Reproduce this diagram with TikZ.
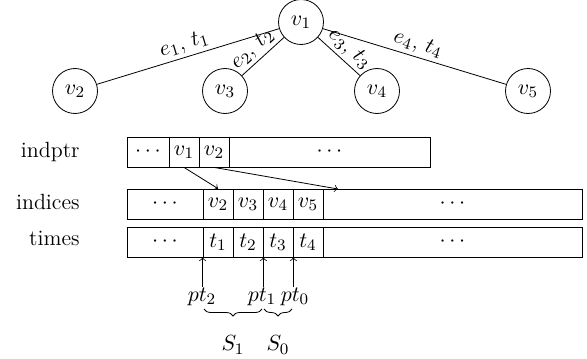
\documentclass[tikz,border=0pt]{standalone}
\usetikzlibrary{decorations.pathreplacing}
\begin{document}
\begin{tikzpicture}[x=0.5pt,y=-0.5pt,
  every node/.style={font=\fontsize{11}{13}\selectfont,inner sep=0.5pt},
  vert/.style={circle,draw,thin,minimum size=22.5pt,inner sep=0pt},
  elab/.style={midway,sloped,above=1.5pt,inner sep=0pt},
  cell/.style={draw,thin,minimum height=15pt,inner sep=0pt,anchor=center},
  rowlab/.style={anchor=base east,inner sep=0pt},
  ptr/.style={->,thin},
  brc/.style={decorate,decoration={brace,mirror,amplitude=3.5pt},thin}]
\useasboundingbox (0,0) rectangle (587,358);
% tree
\node[vert] (v1) at (301,22) {$v_1$};
\node[vert] (v2) at (75,91) {$v_2$};
\node[vert] (v3) at (225,91) {$v_3$};
\node[vert] (v4) at (377,91) {$v_4$};
\node[vert] (v5) at (528,91) {$v_5$};
\draw (v1) -- node[elab] {$e_1$, $t_1$} (v2);
\draw (v1) -- node[elab,pos=0.55] {$e_2$, $t_2$} (v3);
\draw (v1) -- node[elab,pos=0.55] {$e_3$, $t_3$} (v4);
\draw (v1) -- node[elab] {$e_4$, $t_4$} (v5);
% row labels
\node[rowlab] (lp) at (80,157) {indptr};
\node[rowlab] (li) at (80,209) {indices};
\node[rowlab] (lt) at (80,245) {times};
% indptr
\node[cell,minimum width=21pt] (pa) at (148,152) {$\cdots$};
\node[cell,minimum width=15pt] (p1) at (184,152) {$v_1$};
\node[cell,minimum width=15pt] (p2) at (214,152) {$v_2$};
\node[cell,minimum width=100.5pt] (pb) at (329.5,152) {$\cdots$};
% indices
\node[cell,minimum width=38pt] (ia) at (165,204) {$\cdots$};
\node[cell,minimum width=15pt] (i2) at (218,204) {$v_2$};
\node[cell,minimum width=15pt] (i3) at (248,204) {$v_3$};
\node[cell,minimum width=15pt] (i4) at (278,204) {$v_4$};
\node[cell,minimum width=15pt] (i5) at (308,204) {$v_5$};
\node[cell,minimum width=129.5pt] (ib) at (452.5,204) {$\cdots$};
% times
\node[cell,minimum width=38pt] (ta) at (165,242) {$\cdots$};
\node[cell,minimum width=15pt] (t1) at (218,242) {$t_1$};
\node[cell,minimum width=15pt] (t2) at (248,242) {$t_2$};
\node[cell,minimum width=15pt] (t3) at (278,242) {$t_3$};
\node[cell,minimum width=15pt] (t4) at (308,242) {$t_4$};
\node[cell,minimum width=129.5pt] (tb) at (452.5,242) {$\cdots$};
% pointers
\coordinate (q2) at (338,189);
\draw[ptr] (p1.south) -- (i2.north);
\draw[ptr] (p2.south) -- (q2);
% pt labels
\node (pt2) at (202,297) {$pt_2$};
\node (pt1) at (262,297) {$pt_1$};
\node (pt0) at (295,297) {$pt_0$};
\draw[ptr] (pt2.north -| t1.west) -- (t1.south west);
\draw[ptr] (pt1.north -| t2.east) -- (t2.south east);
\draw[ptr] (pt0.north -| t3.east) -- (t3.south east);
% braces
\coordinate (b0) at (204,309);
\coordinate (b1) at (262,309);
\coordinate (b2) at (264,309);
\coordinate (b3) at (292,309);
\draw[brc] (b0) -- (b1);
\draw[brc] (b2) -- (b3);
\node (s1) at (233,345) {$S_1$};
\node (s0) at (278,345) {$S_0$};
\end{tikzpicture}
\end{document}
